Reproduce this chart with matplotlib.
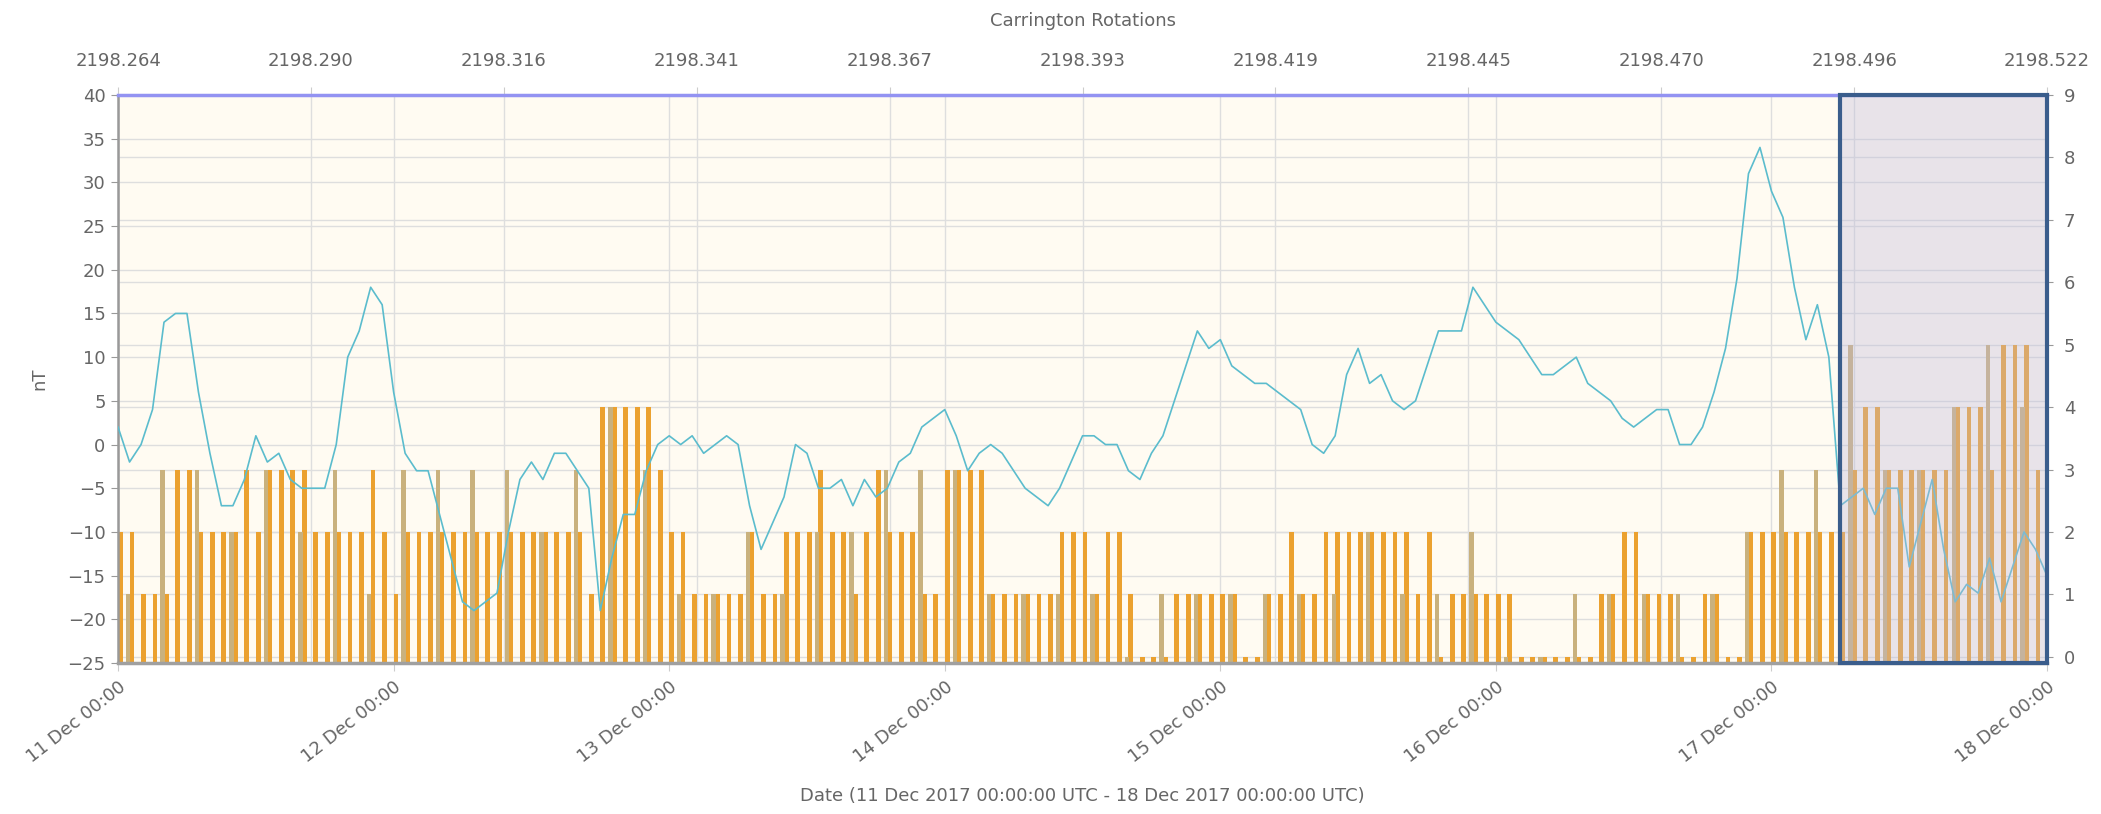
import numpy as np
import pandas as pd
import matplotlib
matplotlib.use("Agg")
import matplotlib.pyplot as plt
import matplotlib.dates as mdates
from matplotlib.ticker import FormatStrFormatter

# ===============================
# DATA  (11 Dec 2017 00:00 -> 18 Dec 2017 00:00 UTC)
# ===============================

# hourly magnetic field (nT), line
bz_nt = [
    2, -2, 0, 4, 14, 15, 15, 6, -1, -7, -7, -4, 1, -2, -1, -4, -5, -5, -5, 0, 10, 13, 18, 16,
    6, -1, -3, -3, -8, -13, -18, -19, -18, -17, -10, -4, -2, -4, -1, -1, -3, -5, -19, -13, -8, -8, -3, 0,
    1, 0, 1, -1, 0, 1, 0, -7, -12, -9, -6, 0, -1, -5, -5, -4, -7, -4, -6, -5, -2, -1, 2, 3,
    4, 1, -3, -1, 0, -1, -3, -5, -6, -7, -5, -2, 1, 1, 0, 0, -3, -4, -1, 1, 5, 9, 13, 11,
    12, 9, 8, 7, 7, 6, 5, 4, 0, -1, 1, 8, 11, 7, 8, 5, 4, 5, 9, 13, 13, 13, 18, 16,
    14, 13, 12, 10, 8, 8, 9, 10, 7, 6, 5, 3, 2, 3, 4, 4, 0, 0, 2, 6, 11, 19, 31, 34,
    29, 26, 18, 12, 16, 10, -7, -6, -5, -8, -5, -5, -14, -9, -4, -12, -18, -16, -17, -13, -18, -14, -10, -12,
    -15,
]

# hourly Kp estimate (orange bars)
kp_hourly = [
    2, 2, 1, 1, 1, 3, 3, 2, 2, 2, 2, 3, 2, 3, 3, 3, 3, 2, 2, 2, 2, 2, 3, 2,
    1, 2, 2, 2, 2, 2, 2, 2, 2, 2, 2, 2, 2, 2, 2, 2, 2, 1, 4, 4, 4, 4, 4, 3,
    2, 2, 1, 1, 1, 1, 1, 2, 1, 1, 2, 2, 2, 3, 2, 2, 1, 2, 3, 2, 2, 2, 1, 1,
    3, 3, 3, 3, 1, 1, 1, 1, 1, 1, 2, 2, 2, 1, 2, 2, 1, 0, 0, 0, 1, 1, 1, 1,
    1, 1, 0, 0, 1, 1, 2, 1, 1, 2, 2, 2, 2, 2, 2, 2, 2, 1, 2, 0, 1, 1, 1, 1,
    1, 1, 0, 0, 0, 0, 0, 0, 0, 1, 1, 2, 2, 1, 1, 1, 0, 0, 1, 1, 0, 0, 2, 2,
    2, 2, 2, 2, 2, 2, 2, 3, 4, 4, 3, 3, 3, 3, 3, 3, 4, 4, 4, 3, 5, 5, 5, 3,
]

# 3-hourly Kp (tan bars)
kp_3h = [
    1, 3, 3, 2, 3, 2, 3, 1,
    3, 3, 3, 3, 2, 3, 4, 3,
    1, 1, 2, 1, 2, 2, 3, 3,
    3, 1, 1, 1, 1, 0, 1, 1,
    1, 1, 1, 1, 2, 1, 1, 2,
    0, 0, 1, 1, 1, 1, 1, 2,
    3, 3, 5, 3, 3, 4, 5, 4,
]

carrington_start = 2198.264
carrington_end = 2198.522
highlight_start = pd.Timestamp("2017-12-17 06:00")
highlight_end = pd.Timestamp("2017-12-18 00:00")

t_line = pd.date_range("2017-12-11", periods=len(bz_nt), freq="h")
t_hourly = pd.date_range("2017-12-11", periods=len(kp_hourly), freq="h")
t_3h = pd.date_range("2017-12-11", periods=len(kp_3h), freq="3h")
days = pd.date_range("2017-12-11", "2017-12-18", freq="D")

# ===============================
# PLOTTING
# ===============================

TXT = "#666666"
GRID = "#dedede"
plt.rcParams["font.family"] = ["DejaVu Sans"]

fig = plt.figure(figsize=(21.01, 8.14), dpi=100)
ax = fig.add_axes([0.0562, 0.1855, 0.9181, 0.6978])
ax.set_facecolor("#fffbf2")
ax_top = ax.twiny()
ax_kp = ax.twinx()
ax_line = ax.twinx()

# nT axis (left) + date axis (bottom)
ax.set_xlim(t_line[0], t_line[-1])
ax.set_ylim(-25, 40)
ax.set_yticks(np.arange(-25, 41, 5))
ax.set_xticks(days)
ax.xaxis.set_major_formatter(mdates.DateFormatter("%d %b %H:%M"))
ax.grid(True, color=GRID, lw=1)
ax.set_axisbelow(True)
ax.tick_params(axis="y", length=5, color="#999999", labelcolor=TXT, labelsize=13, pad=4)
ax.tick_params(axis="x", length=6, color="#cccccc", labelcolor=TXT, labelsize=13, pad=5)
for lab in ax.get_xticklabels():
    lab.set_rotation(38)
    lab.set_ha("right")
    lab.set_va("top")
    lab.set_rotation_mode("anchor")
ax.set_ylabel("nT", color=TXT, fontsize=13, labelpad=14)
ax.set_xlabel("Date (11 Dec 2017 00:00:00 UTC - 18 Dec 2017 00:00:00 UTC)", color=TXT,
              fontsize=13, labelpad=15)
for s in ax.spines.values():
    s.set_visible(False)

# Carrington rotations (top)
ax_top.set_xlim(carrington_start, carrington_end)
ax_top.set_xticks(np.linspace(carrington_start, carrington_end, 11))
ax_top.xaxis.set_major_formatter(FormatStrFormatter("%.3f"))
ax_top.grid(True, axis="x", color=GRID, lw=1)
ax_top.tick_params(axis="x", length=6, color="#cccccc", labelcolor=TXT, labelsize=13, pad=12)
ax_top.set_xlabel("Carrington Rotations", color=TXT, fontsize=13, labelpad=19)
for s in ax_top.spines.values():
    s.set_visible(False)

# Kp bars (right axis)
ax_kp.set_ylim(-0.1, 9)
ax_kp.set_yticks(np.arange(0, 10, 1))
ax_kp.grid(True, axis="y", color=GRID, lw=1)
ax_kp.set_axisbelow(True)
ax_kp.bar(t_hourly, np.array(kp_hourly) + 0.1, bottom=-0.1, width=25 / 1440,
          align="edge", color="#eba12f", zorder=2)
ax_kp.bar(t_3h + pd.Timedelta(minutes=41), np.array(kp_3h) + 0.1, bottom=-0.1,
          width=23 / 1440, align="edge", color="#c9b17d", zorder=3)
ax_kp.tick_params(axis="y", length=4, color="#999999", labelcolor=TXT, labelsize=13, pad=8)
for s in ax_kp.spines.values():
    s.set_visible(False)

# nT line on top of the bars
ax_line.set_ylim(-25, 40)
ax_line.yaxis.set_visible(False)
ax_line.plot(t_line, bz_nt, color="#5bbccd", lw=1.2, zorder=4)
for s in ax_line.spines.values():
    s.set_visible(False)
ax_line.spines["left"].set_visible(True)
ax_line.spines["left"].set_color("#999999")
ax_line.spines["left"].set_linewidth(1.8)
ax_line.spines["bottom"].set_visible(True)
ax_line.spines["bottom"].set_color("#a0a0a0")
ax_line.spines["bottom"].set_linewidth(2.5)
ax_line.spines["top"].set_visible(True)
ax_line.spines["top"].set_color("#9393f2")
ax_line.spines["top"].set_linewidth(2.5)

# highlighted selection
ax_line.axvspan(highlight_start, highlight_end, facecolor=(0.745, 0.725, 0.855, 0.35),
                edgecolor="#3a5d8c", linewidth=3, zorder=5, clip_on=False)

fig.savefig("out.png", dpi=100)
